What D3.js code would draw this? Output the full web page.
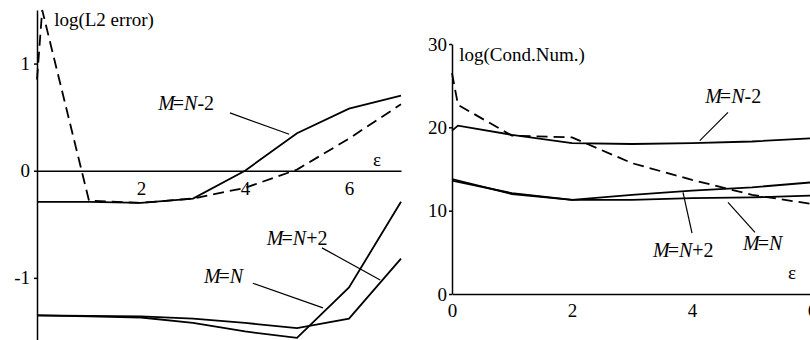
<!DOCTYPE html>
<html>
<head>
<meta charset="utf-8">
<script src="https://cdn.jsdelivr.net/npm/d3@7"></script>
<style>
  body { margin: 0; background: #fff; }
  svg text { font-family: "Liberation Serif", "Times New Roman", Times, "DejaVu Serif", serif !important; fill: #000; }
  .axis path, .axis line { stroke: #000; stroke-width: 1.5; }
  .axis text { font-size: 19px; }
  .curve { fill: none; stroke: #000; stroke-width: 1.8; }
  .dash { stroke-dasharray: 11, 6; }
  .leader { stroke: #000; stroke-width: 1.2; }
  .lbl { font-size: 20px; }
</style>
</head>
<body>
<svg id="chart" width="810" height="340"></svg>
<script>
// left panel: log(L2 error) vs epsilon
var epsL = [0, 1, 2, 3, 4, 5, 6, 7];
var errNm2 = [-0.29, -0.29, -0.30, -0.26, 0.0, 0.35, 0.58, 0.70];
var errN = [-1.35, -1.36, -1.37, -1.42, -1.50, -1.56, -1.09, -0.29];
var errNp2 = [-1.35, -1.355, -1.36, -1.38, -1.42, -1.47, -1.38, -0.82];
var epsLDash = [0, 0.1, 1, 2, 3, 4, 5, 6, 7];
var errDash = [0.85, 1.5, -0.28, -0.30, -0.26, -0.16, 0.01, 0.30, 0.62];
var ticksLX = [2, 4, 6];
var ticksLY = [-1, 0, 1];

// right panel: log(condition number) vs epsilon
var epsR = [0, 1, 2, 3, 4, 5, 6];
var condN = [13.6, 12.1, 11.3, 11.3, 11.5, 11.6, 11.8];
var condNp2 = [13.8, 12.0, 11.3, 11.9, 12.4, 12.8, 13.4];
var epsRTop = [0, 0.1, 1, 2, 3, 4, 5, 6];
var condNm2 = [19.6, 20.2, 19.1, 18.1, 18.0, 18.1, 18.3, 18.7];
var condDash = [26.5, 22.7, 19.0, 18.8, 15.7, 13.7, 11.9, 10.8];
var ticksRX = [0, 2, 4, 6];
var ticksRY = [0, 10, 20, 30];

var svg = d3.select("#chart");
var fmt = function(d) { return String(d); };   // plain hyphen for negatives

// ---------- left ----------
var xL = d3.scaleLinear().domain([0, 7]).range([37, 401]);
var yL = d3.scaleLinear().domain([-1.58, 1.5]).range([340, 10]);

svg.append("g")
    .attr("class", "axis")
    .attr("transform", "translate(" + xL(0) + ",0)")
    .call(d3.axisLeft(yL).tickValues(ticksLY).tickSize(3).tickSizeOuter(0).tickPadding(4).tickFormat(fmt));

svg.append("g")
    .attr("class", "axis")
    .attr("transform", "translate(0," + yL(0) + ")")
    .call(d3.axisBottom(xL).tickValues(ticksLX).tickSize(0).tickSizeOuter(0).tickPadding(11).tickFormat(fmt));

var lineL = d3.line()
    .x(function(d) { return xL(d[0]); })
    .y(function(d) { return yL(d[1]); });

function drawL(xs, ys, dashed) {
    svg.append("path")
        .attr("class", dashed ? "curve dash" : "curve")
        .attr("d", lineL(d3.zip(xs, ys)));
}
drawL(epsL, errNm2, false);
drawL(epsL, errN, false);
drawL(epsL, errNp2, false);
drawL(epsLDash, errDash, true);

// ---------- right ----------
var xR = d3.scaleLinear().domain([0, 6]).range([452, 812]);
var yR = d3.scaleLinear().domain([0, 30]).range([294, 44]);

svg.append("g")
    .attr("class", "axis")
    .attr("transform", "translate(" + xR(0) + ",0)")
    .call(d3.axisLeft(yR).tickValues(ticksRY).tickSize(3).tickSizeOuter(0).tickPadding(2).tickFormat(fmt));

svg.append("g")
    .attr("class", "axis")
    .attr("transform", "translate(0," + yR(0) + ")")
    .call(d3.axisBottom(xR).tickValues(ticksRX).tickSize(0).tickSizeOuter(0).tickPadding(10).tickFormat(fmt));

var lineR = d3.line()
    .x(function(d) { return xR(d[0]); })
    .y(function(d) { return yR(d[1]); });

function drawR(xs, ys, dashed) {
    svg.append("path")
        .attr("class", dashed ? "curve dash" : "curve")
        .attr("d", lineR(d3.zip(xs, ys)));
}
drawR(epsR, condN, false);
drawR(epsR, condNp2, false);
drawR(epsRTop, condNm2, false);
drawR(epsRTop, condDash, true);

// ---------- labels ----------
function label(x, y, tail) {
    var t = svg.append("text").attr("class", "lbl").attr("x", x).attr("y", y);
    t.append("tspan").style("font-style", "italic").text("M");
    t.append("tspan").attr("dx", -2).text("=");
    t.append("tspan").style("font-style", "italic").text("N");
    if (tail) t.append("tspan").text(tail);
}
function leader(x1, y1, x2, y2) {
    svg.append("line").attr("class", "leader")
        .attr("x1", x1).attr("y1", y1).attr("x2", x2).attr("y2", y2);
}
function plain(x, y, s) {
    svg.append("text").attr("class", "lbl").attr("x", x).attr("y", y).style("font-size", "19px").text(s);
}

plain(xL(0.33), yL(1.35), "log(L2 error)");
plain(xL(6.46), yL(0.04), "\u03b5");
label(xL(2.33), yL(0.57), "-2");
leader(xL(3.71), yL(0.54), xL(4.85), yL(0.34));
label(xL(4.42), yL(-0.69), "+2");
leader(xL(5.48), yL(-0.72), xL(6.6), yL(-1.02));
label(xL(3.21), yL(-1.05), "");
leader(xL(4.15), yL(-1.05), xL(5.5), yL(-1.28));

plain(xR(0.12), yR(28.0), "log(Cond.Num.)");
plain(xR(5.6), yR(1.8), "\u03b5");
label(xR(4.22), yR(22.9), "-2");
leader(xR(4.6), yR(21.8), xR(4.13), yR(18.4));
label(xR(3.35), yR(4.4), "+2");
leader(xR(4.0), yR(7.3), xR(3.85), yR(12.2));
label(xR(4.85), yR(5.3), "");
leader(xR(5.05), yR(7.4), xR(4.6), yR(11.0));
</script>
</body>
</html>
